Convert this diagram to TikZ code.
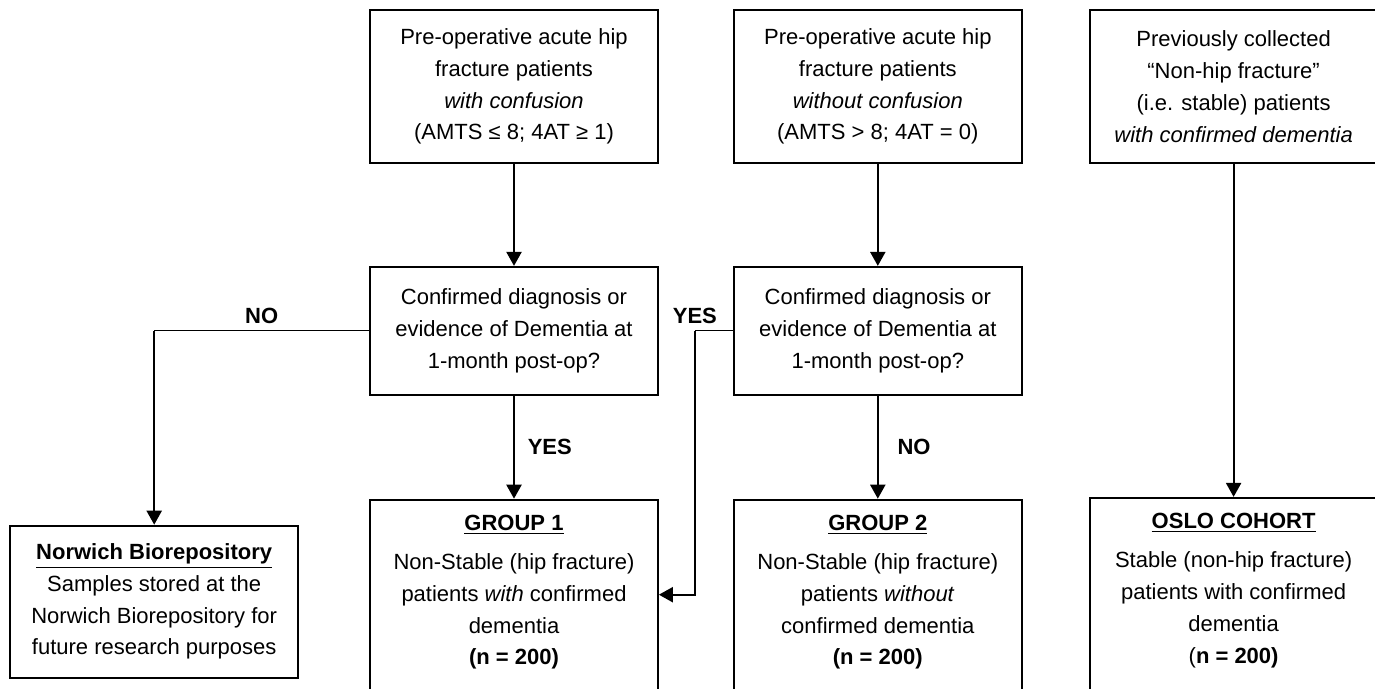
\documentclass[tikz,border=0pt]{standalone}
\usepackage{fontspec}
\setmainfont{Liberation Sans}
\usetikzlibrary{arrows.meta,positioning,calc}

\begin{document}
\begin{tikzpicture}[font=\fontsize{11pt}{15.9pt}\selectfont, >={Triangle[length=7pt,width=7.5pt]}, node distance=51pt,
  box/.style={draw, line width=0.9pt, align=center, minimum width=144pt, minimum height=#1, inner sep=3.5pt},
  box/.default=64pt,
  grp/.style={draw, line width=0.9pt, align=center, minimum width=144pt, inner sep=3.5pt},
  flow/.style={->, line width=1.1pt},
  link/.style={line width=0.5pt},
  lbl/.style={font=\fontsize{11pt}{15.9pt}\selectfont\bfseries}]
  \clip (0,0) rectangle (687.5pt,-344.5pt);
  % patient sources
  \node[box=76.5pt] (src1) at (257pt,-43.25pt) {Pre-operative acute hip\\fracture patients\\\textit{with confusion}\\(AMTS ≤ 8; 4AT ≥ 1)};
  \node[box=76.5pt, right=37pt of src1] (src2) {Pre-operative acute hip\\fracture patients\\\textit{without confusion}\\(AMTS > 8; 4AT = 0)};
  \node[box=76.5pt, right=33pt of src2] (src3) {Previously collected\\“Non-hip fracture”\\(i.e. stable) patients\\\textit{with confirmed dementia}};
  % decisions
  \node[box, below=of src1] (dec1) {Confirmed diagnosis or\\evidence of Dementia at\\1-month post-op?};
  \node[box, below=of src2] (dec2) {Confirmed diagnosis or\\evidence of Dementia at\\1-month post-op?};
  % groups
  \node[grp, below=51.5pt of dec1] (grp1) {\rule{0pt}{12pt}\underline{\textbf{GROUP 1}}\\[3.5pt]Non-Stable (hip fracture)\\patients \textit{with} confirmed\\dementia\\\textbf{(n = 200)}\\[10pt]~};
  \node[grp, below=51.5pt of dec2] (grp2) {\rule{0pt}{12pt}\underline{\textbf{GROUP 2}}\\[3.5pt]Non-Stable (hip fracture)\\patients \textit{without}\\confirmed dementia\\\textbf{(n = 200)}\\[10pt]~};
  \node[grp, below=166.5pt of src3] (oslo) {\rule{0pt}{12pt}\underline{\textbf{OSLO COHORT}}\\[3.5pt]Stable (non-hip fracture)\\patients with confirmed\\dementia\\(\textbf{n = 200)}\\[10pt]~};
  \node[box=76pt, anchor=north east] (norw) at ($(grp1.north west)+(-35pt,-13pt)$) {\underline{\textbf{Norwich Biorepository}}\\Samples stored at the\\Norwich Biorepository for\\future research purposes};
  % connectors
  \draw[flow] (src1) -- (dec1);
  \draw[flow] (dec1) -- node[lbl, right=3pt] {YES} (grp1);
  \draw[flow] (src2) -- (dec2);
  \draw[flow] (dec2) -- node[lbl, right=6pt] {NO} (grp2);
  \draw[flow] (src3) -- (oslo);
  \draw[link] (dec1.west) -- node[lbl, above] {NO} (dec1.west -| norw.north);
  \draw[flow] (dec1.west -| norw.north) -- (norw.north);
  \coordinate (yb) at ($(dec2.west)+(-19pt,0)$);
  \coordinate (yin) at ($(grp1.north east)+(0,-48pt)$);
  \draw[link] (dec2.west) -- (yb) node[lbl, above] {YES};
  \draw[flow] (yb) |- (yin);
\end{tikzpicture}
\end{document}
